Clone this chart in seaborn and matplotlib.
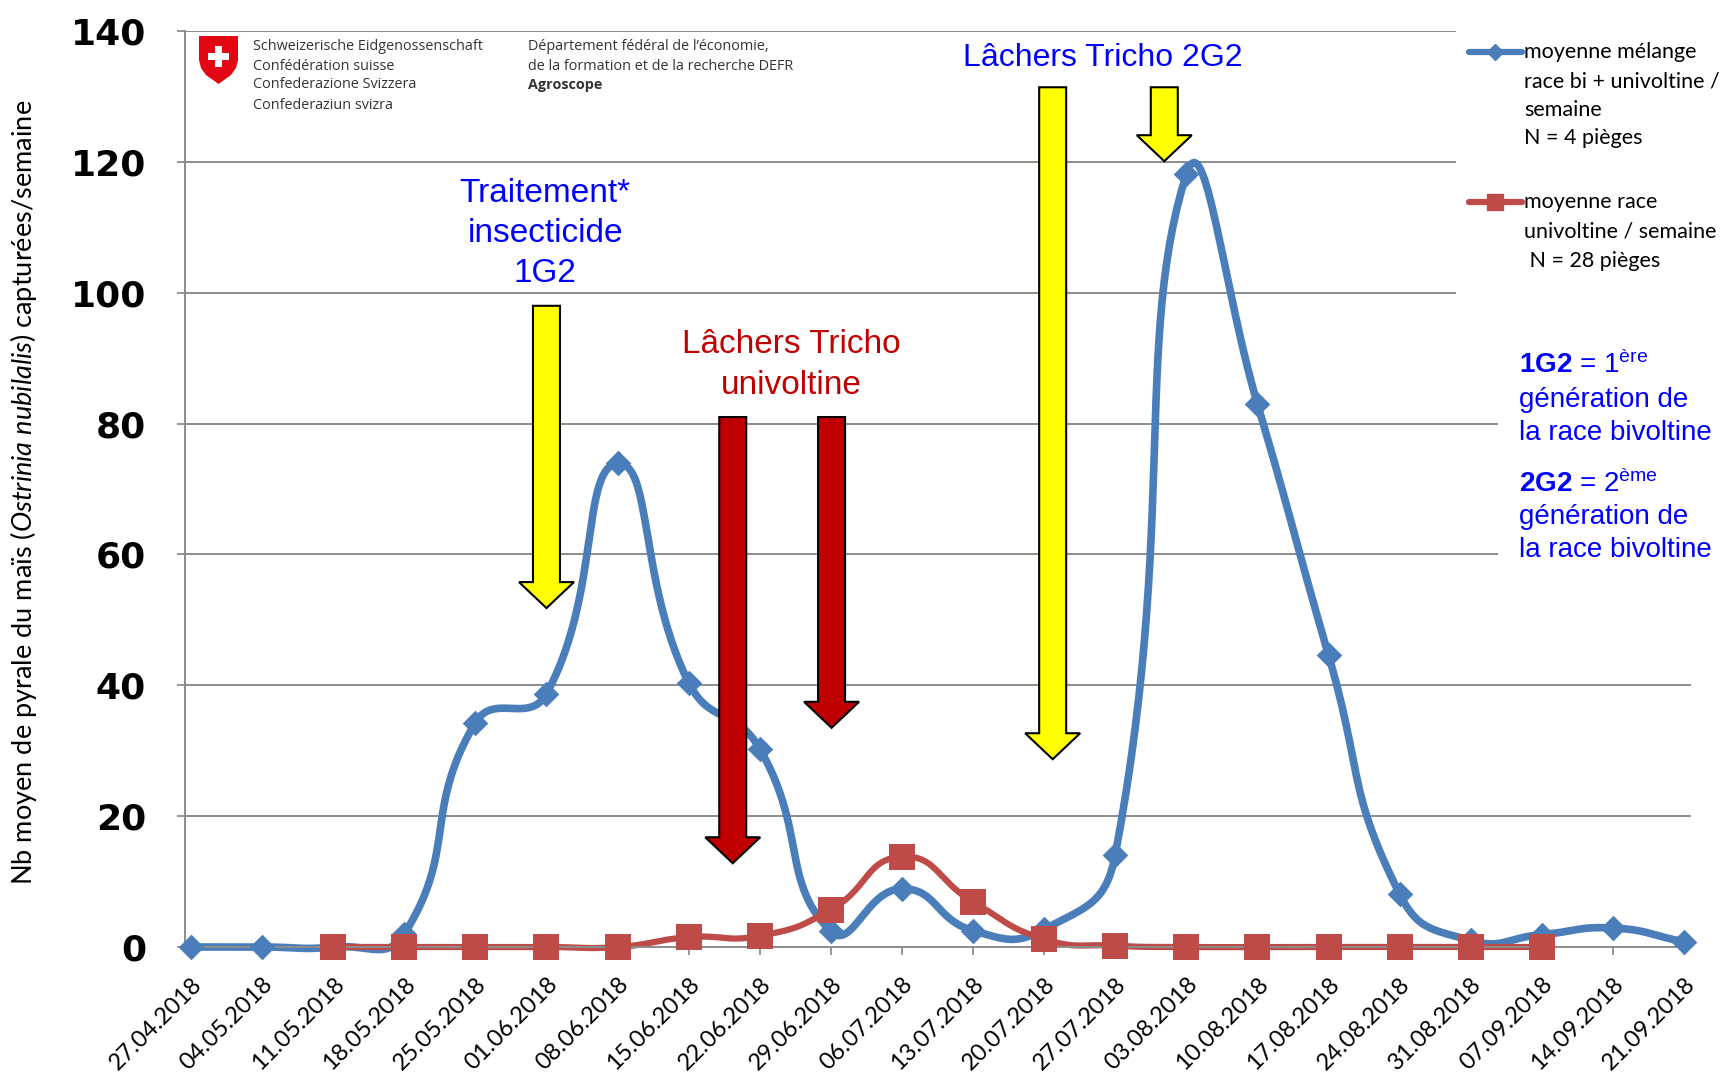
import numpy as np
import pandas as pd
import matplotlib
matplotlib.use("Agg")
import matplotlib.pyplot as plt
import seaborn as sns
from matplotlib.patches import Rectangle, Polygon, FancyArrow
from matplotlib.lines import Line2D

# ---- data ----
dates = ["27.04.2018", "04.05.2018", "11.05.2018", "18.05.2018", "25.05.2018", "01.06.2018",
         "08.06.2018", "15.06.2018", "22.06.2018", "29.06.2018", "06.07.2018", "13.07.2018",
         "20.07.2018", "27.07.2018", "03.08.2018", "10.08.2018", "17.08.2018", "24.08.2018",
         "31.08.2018", "07.09.2018", "14.09.2018", "21.09.2018"]
melange = [0, 0, 0, 2.0, 34.3, 38.7, 73.9, 40.4, 30.3, 2.4, 8.9, 2.5,
           2.7, 14.1, 118.1, 83.0, 44.6, 8.1, 1.0, 1.9, 2.9, 0.8]
univoltine = [np.nan, np.nan, 0, 0, 0, 0, 0, 1.5, 1.7, 5.7, 13.8, 6.9,
              1.2, 0.2, 0, 0, 0, 0, 0, 0, np.nan, np.nan]
yticks = [0, 20, 40, 60, 80, 100, 120, 140]

# arrows: (x position in categories, top value, tip value, colour)
arrows = [(5.0, 98, 51.8, "#FFFF00"),
          (7.62, 81, 12.8, "#C00000"),
          (9.01, 81, 33.5, "#C00000"),
          (12.12, 131.4, 28.7, "#FFFF00"),
          (13.69, 131.4, 120.1, "#FFFF00")]

BLUE = "#4A7EBB"
RED = "#BE4B48"
GRID = "#8C8C8C"
W, H = 1725, 1081


def fx(px):
    return px / W


def fy(py):
    return 1 - py / H


def excel_smooth(xs, ys, sx, sy, tension=0.5, n=30):
    # bezier smoothing like Excel's "smoothed line", computed in pixel space
    P = np.column_stack([np.asarray(xs, float) * sx, np.asarray(ys, float) * sy])
    out = [P[:1]]
    t = np.linspace(0, 1, n)[1:, None]
    for i in range(len(P) - 1):
        p0, p1, p2 = P[max(i - 1, 0)], P[i], P[i + 1]
        p3 = P[min(i + 2, len(P) - 1)]
        d01 = np.hypot(*(p1 - p0))
        d12 = np.hypot(*(p2 - p1))
        d23 = np.hypot(*(p3 - p2))
        c1 = p1 + tension * d12 / (d01 + d12) * (p2 - p0)
        c2 = p2 - tension * d12 / (d12 + d23) * (p3 - p1)
        b = (1 - t) ** 3 * p1 + 3 * (1 - t) ** 2 * t * c1 + 3 * (1 - t) * t ** 2 * c2 + t ** 3 * p2
        out.append(b)
    Q = np.vstack(out)
    return Q[:, 0] / sx, Q[:, 1] / sy


sns.set_theme(style="white")
plt.rcParams["font.family"] = ["Lato", "DejaVu Sans"]
plt.rcParams["text.color"] = "black"
plt.rcParams["xtick.color"] = "black"
plt.rcParams["ytick.color"] = "black"
plt.rcParams["mathtext.fontset"] = "custom"
plt.rcParams["mathtext.rm"] = "Liberation Sans"
plt.rcParams["mathtext.bf"] = "Liberation Sans:bold"
plt.rcParams["mathtext.it"] = "Lato:italic"

fig = plt.figure(figsize=(W / 100, H / 100), dpi=100)
ax = fig.add_axes([fx(185), fy(947), fx(1691 - 185), (947 - 31) / H])

idx = np.arange(len(dates))
df = pd.DataFrame({"idx": idx, "melange": melange, "univoltine": univoltine})

# pixels per unit, used for smoothing in screen space
sx = (1684 - 191) / 21
sy = (947 - 31) / 140

bx, by = excel_smooth(idx, melange, sx, sy)
ok = ~np.isnan(np.asarray(univoltine))
rx, ry = excel_smooth(idx[ok], np.asarray(univoltine)[ok], sx, sy)

# the univoltine series sits on top, as in the original
sns.lineplot(x=bx, y=by, sort=False, estimator=None, color=BLUE, lw=5.5, ax=ax,
             zorder=2, clip_on=False)
sns.lineplot(x=rx, y=ry, sort=False, estimator=None, color=RED, lw=4.5, ax=ax,
             zorder=2.1, clip_on=False)
sns.scatterplot(data=df, x="idx", y="melange", marker="D", s=170, color=BLUE,
                linewidth=0, ax=ax, zorder=3, clip_on=False)
sns.scatterplot(data=df, x="idx", y="univoltine", marker="s", s=340, color=RED,
                linewidth=0, ax=ax, zorder=3.1, clip_on=False)

ax.set_xlim(-6 / sx, 21 + 7 / sx)
ax.set_ylim(0, 140)
ax.set_xticks(idx)
ax.set_xticklabels(dates, rotation=45, ha="right", rotation_mode="anchor", fontsize=17)
ax.set_yticks(yticks)
ax.set_yticklabels([str(v) for v in yticks], fontsize=26, fontweight="bold",
                   family="DejaVu Sans")
ax.tick_params(axis="x", length=6, width=1.3, color=GRID, pad=13, bottom=True,
               labelcolor="black")
ax.tick_params(axis="y", length=6, width=1.3, color=GRID, pad=22, left=True,
               labelcolor="black")
ax.set_xlabel("")
ax.set_ylabel("")
ax.yaxis.grid(True, color=GRID, lw=1.4)
ax.set_axisbelow(True)
for side in ["top", "right"]:
    ax.spines[side].set_visible(False)
for side in ["left", "bottom"]:
    ax.spines[side].set_color(GRID)
    ax.spines[side].set_linewidth(1.4)

# white boxes behind legend and side note hide the gridlines there
ax.add_patch(Rectangle((fx(1456), fy(330)), fx(W - 1456), 330 / H, transform=fig.transFigure,
                       fc="white", ec="none", zorder=1))
ax.add_patch(Rectangle((fx(1498), fy(570)), fx(W - 1498), 250 / H, transform=fig.transFigure,
                       fc="white", ec="none", zorder=1))

# block arrows
for x, top, tip, col in arrows:
    ax.add_patch(FancyArrow(x, top, 0, tip - top, width=27 / sx, head_width=55 / sx,
                            head_length=26 / sy, length_includes_head=True,
                            fc=col, ec="black", lw=1.5, zorder=5))

ax.text(4.98, 109.1, "Traitement*\ninsecticide\n1G2", ha="center", va="center",
        color="#0000FF", fontsize=24, family="Liberation Sans", linespacing=1.38, zorder=6)
ax.text(8.44, 89.0, "Lâchers Tricho\nunivoltine", ha="center", va="center",
        color="#C00000", fontsize=24, family="Liberation Sans", linespacing=1.42, zorder=6)
ax.text(12.83, 135.9, "Lâchers Tricho 2G2", ha="center", va="center",
        color="#0000FF", fontsize=23, family="Liberation Sans", zorder=6)

# y label with italic species name
fig.text(fx(24), fy(492),
         r"Nb moyen de pyrale du maïs ($\it{Ostrinia\ nubilalis}$) capturées/semaine",
         rotation=90, ha="center", va="center", fontsize=19.5)

# legend drawn by hand to keep the handle on the first text line
fig.add_artist(Line2D([fx(1469), fx(1495), fx(1522)], [fy(52)] * 3, color=BLUE, lw=4.5,
                      marker="D", markersize=8, markevery=[1], solid_capstyle="round"))
fig.add_artist(Line2D([fx(1469), fx(1495), fx(1522)], [fy(202)] * 3, color=RED, lw=4.5,
                      marker="s", markersize=12, markevery=[1], solid_capstyle="round"))


def put_lines(x, ys, lines, **kw):
    for y, s in zip(ys, lines):
        fig.text(fx(x), fy(y), s, ha="left", va="center", **kw)


put_lines(1524, [52, 81, 110, 138],
          ["moyenne mélange", "race bi + univoltine /", "semaine", "N = 4 pièges"],
          fontsize=15.5)
put_lines(1524, [202, 232, 261],
          ["moyenne race", "univoltine / semaine", " N = 28 pièges"],
          fontsize=15.5)

note_kw = dict(fontsize=20, color="#0000FF", family="Liberation Sans")
put_lines(1519, [365, 400, 433],
          [r"$\mathbf{1G2}$ = $1^{\mathrm{ère}}$", "génération de", "la race bivoltine"], **note_kw)
put_lines(1519, [484, 517, 550],
          [r"$\mathbf{2G2}$ = $2^{\mathrm{ème}}$", "génération de", "la race bivoltine"], **note_kw)

# federal logo block
shield = [(199, 36), (238, 36), (238, 60), (236, 68), (231, 75), (224, 80), (218.5, 84),
          (213, 80), (206, 75), (201, 68), (199, 60)]
fig.add_artist(Polygon([(fx(a), fy(b)) for a, b in shield], closed=True, fc="#E30613", ec="none"))
fig.add_artist(Rectangle((fx(208), fy(60)), fx(21), 7 / H, fc="white", ec="none"))
fig.add_artist(Rectangle((fx(215), fy(67)), fx(7), 21 / H, fc="white", ec="none"))

logo_kw = dict(fontsize=10.4, color="#333333", family="Open Sans")
put_lines(253, [46, 66, 85, 105],
          ["Schweizerische Eidgenossenschaft", "Confédération suisse",
           "Confederazione Svizzera", "Confederaziun svizra"], **logo_kw)
put_lines(528, [46, 66], ["Département fédéral de l’économie,",
                          "de la formation et de la recherche DEFR"], **logo_kw)
put_lines(528, [85], ["Agroscope"], fontweight="bold", **logo_kw)

fig.savefig("out.png", dpi=100)
